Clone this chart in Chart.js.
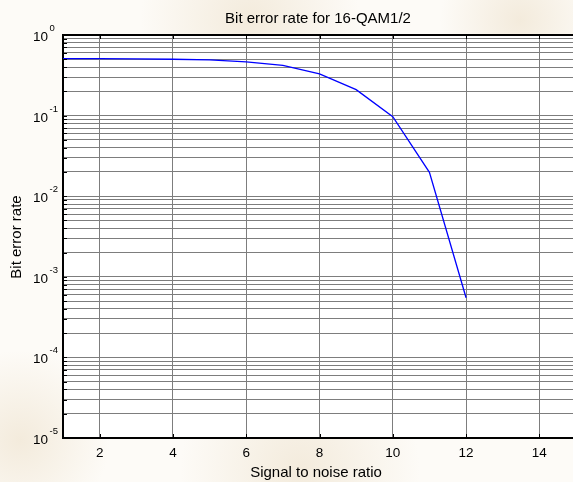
<!DOCTYPE html>
<html>
<head>
<meta charset="utf-8">
<script src="https://cdn.jsdelivr.net/npm/chart.js@4"></script>
<style>
  html, body { margin: 0; padding: 0; overflow: hidden; background: #fdfbf7; }
  #wrap { width: 578px; height: 482px; }
</style>
</head>
<body>
<div id="wrap"><canvas id="berChart" width="578" height="482"></canvas></div>
<script>
// ---- data ----
const snr = [1, 2, 3, 4, 5, 6, 7, 8, 9, 10, 11, 12];
const ber = [0.51, 0.51, 0.505, 0.5, 0.49, 0.465, 0.42, 0.33, 0.21, 0.097, 0.0198, 0.00055];
const xTicks = [2, 4, 6, 8, 10, 12, 14];
const yExponents = [0, -1, -2, -3, -4, -5];

const FONT = '"Liberation Sans", Arial, sans-serif';
const gridColor = '#7d7d7d';

// every 1..9 x 10^k line for the log axis
function logTicks() {
    const out = [];
    for (let e = -5; e < 0; e++) {
        for (let m = 1; m <= 9; m++) out.push({ value: m * Math.pow(10, e) });
    }
    out.push({ value: 1 });
    return out;
}

// soft beige backdrop like the watermark in the figure
const backdrop = {
    id: 'backdrop',
    beforeDraw(chart) {
        const { ctx, width, height, chartArea: a } = chart;
        ctx.save();
        ctx.fillStyle = '#fdfbf7';
        ctx.fillRect(0, 0, width, height);
        const blobs = [[20, 440, 90], [300, 470, 120], [250, 20, 110], [520, 20, 80]];
        blobs.forEach(([x, y, r]) => {
            const g = ctx.createRadialGradient(x, y, 0, x, y, r);
            g.addColorStop(0, 'rgba(225, 205, 170, 0.35)');
            g.addColorStop(1, 'rgba(225, 205, 170, 0)');
            ctx.fillStyle = g;
            ctx.fillRect(x - r, y - r, r * 2, r * 2);
        });
        ctx.fillStyle = '#ffffff';
        ctx.fillRect(a.left, a.top, a.right - a.left, a.bottom - a.top);
        ctx.restore();
    }
};

// MATLAB style decorations: box, inward ticks, 10^n labels, titles
const decorations = {
    id: 'decorations',
    afterDraw(chart) {
        const { ctx, chartArea: a, scales } = chart;
        const x = scales.x, y = scales.y;
        ctx.save();

        // top box line
        ctx.strokeStyle = '#000';
        ctx.lineWidth = 2;
        ctx.beginPath();
        ctx.moveTo(a.left, a.top);
        ctx.lineTo(a.right, a.top);
        ctx.stroke();

        // inward tick marks
        ctx.lineWidth = 1;
        ctx.beginPath();
        xTicks.forEach(v => {
            const px = Math.round(x.getPixelForValue(v)) + 0.5;
            ctx.moveTo(px, a.bottom); ctx.lineTo(px, a.bottom - 4);
            ctx.moveTo(px, a.top); ctx.lineTo(px, a.top + 4);
        });
        y.ticks.forEach(t => {
            const py = Math.round(y.getPixelForValue(t.value)) + 0.5;
            ctx.moveTo(a.left, py); ctx.lineTo(a.left + 4, py);
        });
        ctx.stroke();

        // y tick labels 10^n
        ctx.fillStyle = '#000';
        yExponents.forEach(e => {
            const py = y.getPixelForValue(Math.pow(10, e));
            ctx.font = '13.5px ' + FONT;
            ctx.textAlign = 'right';
            ctx.textBaseline = 'alphabetic';
            ctx.fillText('10', 48, py + 6);
            ctx.font = '9.5px ' + FONT;
            ctx.textAlign = 'left';
            ctx.fillText(String(e), 49.5, py - 4);
        });

        // title
        ctx.font = '15px ' + FONT;
        ctx.textAlign = 'center';
        ctx.textBaseline = 'alphabetic';
        ctx.fillText('Bit error rate for 16-QAM1/2', 318, 23);

        // x axis title
        ctx.fillText('Signal to noise ratio', 316, 477);

        // y axis title
        ctx.translate(21, 237);
        ctx.rotate(-Math.PI / 2);
        ctx.fillText('Bit error rate', 0, 0);

        ctx.restore();
    }
};

const ctx = document.getElementById('berChart').getContext('2d');
new Chart(ctx, {
    type: 'line',
    data: {
        datasets: [{
            label: 'BER',
            data: snr.map((s, i) => ({ x: s, y: ber[i] })),
            borderColor: '#0000ff',
            borderWidth: 1.3,
            pointRadius: 0,
            tension: 0,
            fill: false
        }]
    },
    options: {
        responsive: false,
        animation: false,
        devicePixelRatio: 1,
        layout: { padding: { top: 35, right: 2, left: 0, bottom: 0 } },
        plugins: {
            legend: { display: false },
            title: { display: false },
            tooltip: { enabled: false }
        },
        scales: {
            x: {
                type: 'linear',
                min: 1,
                max: 15,
                afterBuildTicks: s => { s.ticks = xTicks.map(v => ({ value: v })); },
                afterFit: s => { s.height = 44; },
                grid: { color: gridColor, lineWidth: 1, drawTicks: false },
                border: { color: '#000', width: 2 },
                ticks: {
                    color: '#000',
                    padding: 7,
                    maxRotation: 0,
                    autoSkip: false,
                    font: { family: FONT, size: 13.5 }
                }
            },
            y: {
                type: 'logarithmic',
                min: 1e-5,
                max: 1,
                afterBuildTicks: s => { s.ticks = logTicks(); },
                afterFit: s => { s.width = 63; },
                grid: { color: gridColor, lineWidth: 1, drawTicks: false },
                border: { color: '#000', width: 2 },
                ticks: { display: false }
            }
        }
    },
    plugins: [backdrop, decorations]
});
</script>
</body>
</html>
